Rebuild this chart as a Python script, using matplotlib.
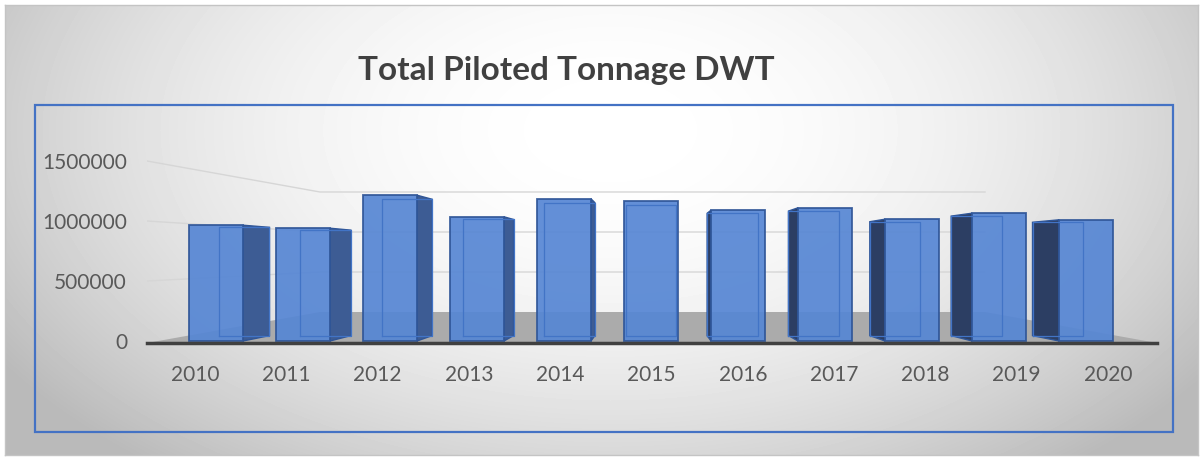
import numpy as np
import matplotlib
matplotlib.use("Agg")
import matplotlib.pyplot as plt
from matplotlib.patches import Polygon, Rectangle

plt.rcParams['font.family'] = ['Lato', 'DejaVu Sans']

years = ["2010", "2011", "2012", "2013", "2014", "2015", "2016", "2017", "2018", "2019", "2020"]
tonnage = [965000, 940000, 1215000, 1035000, 1185000, 1165000, 1090000, 1110000, 1015000, 1065000, 1010000]
yticks = [0, 500000, 1000000, 1500000]

W, H = 1203, 459
fig = plt.figure(figsize=(W / 100, H / 100), dpi=100)
fig.patch.set_facecolor("white")


def box(x0, y0, x1, y1):
    # pixel box -> figure fraction [left, bottom, width, height]
    return [x0 / W, 1 - y1 / H, (x1 - x0) / W, (y1 - y0) / H]


# grey radial background
bg = fig.add_axes(box(5, 5, 1198, 455))
yy, xx = np.mgrid[5:455, 5:1198]
r = np.sqrt(((xx - 610) / 600.0) ** 2 + ((yy - 130) / 360.0) ** 2)
shade = 1 - 0.27 * (np.clip(r, 0, 1.2) / 1.2) ** 2
bg.imshow(shade, cmap="gray", vmin=0, vmax=1, aspect="auto")
bg.set_xticks([])
bg.set_yticks([])
for s in bg.spines.values():
    s.set_color("#c4c4c4")
    s.set_linewidth(1)

fig.add_artist(Rectangle((35 / W, 1 - 432 / H), (1173 - 35) / W, (432 - 105) / H,
                         transform=fig.transFigure, fill=False, ec="#4472c4", lw=1.6))

fig.text(566 / W, 1 - 80 / H, "Total Piloted Tonnage DWT", ha="center", va="baseline",
         fontsize=24, fontweight="bold", color="#404040")

ax = fig.add_axes(box(147, 140, 1157, 343))
ax.set_facecolor("none")
ax.set_xlim(-0.793, 10.816)
ax.set_ylim(-16667, 1675000)

# floor and walls seen in perspective
back0 = 241667
k = 0.6667
ax.add_patch(Polygon([(-0.793, -16667), (1.195, back0), (8.839, back0), (10.816, -16667)],
                     closed=True, fc="#ababab", ec="none", zorder=1))
for v in yticks[1:]:
    ax.plot([-0.793, 1.195, 8.839], [v, back0 + k * v, back0 + k * v],
            color="#d6d6d6", lw=1, zorder=1)

# bars
w = 0.62
xv, yv, s = 5, 691667, 0.935


def back(x, y):
    return (xv + s * (x - xv), yv + s * (y - yv))


x = np.arange(len(years))
for i, v in zip(x, tonnage):
    if i < 5:
        e = i + w / 2
        col = "#3d5c94"
    elif i > 5:
        e = i - w / 2
        col = "#2c3e63"
    else:
        e = None
    if e is not None:
        ax.add_patch(Polygon([(e, 0), (e, v), back(e, v), back(e, 0)], closed=True,
                             fc=col, ec="#2f5597", lw=1, zorder=3))

ax.bar(x, tonnage, width=w, color="#5686d4", edgecolor="#2f5597", lw=1.3, alpha=0.92, zorder=4)

for i, v in zip(x, tonnage):
    bx0, by0 = back(i - w / 2, 0)
    bx1, by1 = back(i + w / 2, v)
    ax.plot([bx0, bx0, bx1, bx1, bx0], [by0, by1, by1, by0, by0], color="#4274c6", lw=0.9, zorder=5)

ax.set_yticks(yticks)
ax.set_yticklabels([str(t) for t in yticks])
ax.set_xticks(-0.241 + 1.0494 * x)
ax.set_xticklabels(years)
ax.tick_params(axis="y", length=0, pad=14.4, labelsize=15, labelcolor="#595959")
ax.tick_params(axis="x", length=0, pad=15.5, labelsize=15, labelcolor="#595959")
for side in ["top", "right", "left"]:
    ax.spines[side].set_visible(False)
ax.spines["bottom"].set_color("#404040")
ax.spines["bottom"].set_linewidth(2.5)
ax.spines["bottom"].set_zorder(6)

fig.savefig("out.png", dpi=100)
